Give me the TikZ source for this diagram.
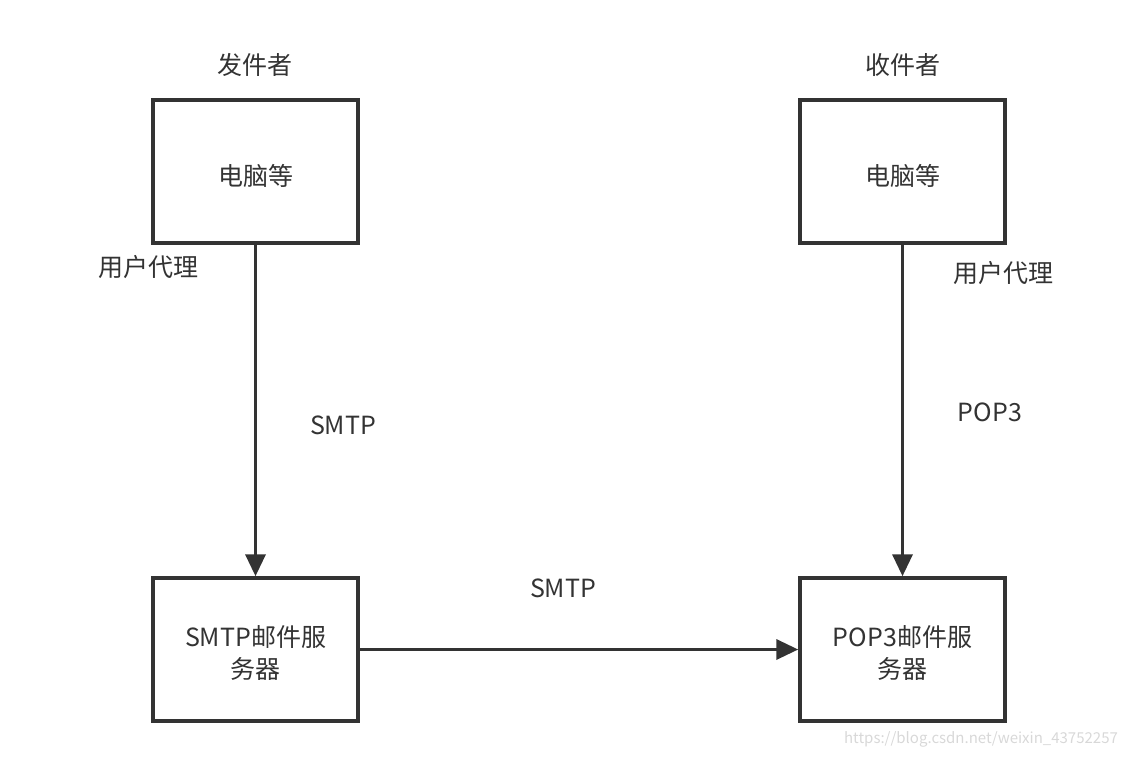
\documentclass[tikz,border=0pt]{standalone}
\usepackage{fontspec}
\setmainfont{Noto Sans CJK SC}
\usetikzlibrary{arrows.meta}
\definecolor{ink}{HTML}{333333}
\definecolor{wm}{HTML}{D8D8D8}
\tikzset{
  x=1pt,y=-1pt,
  box/.style={draw=ink,line width=3.5pt,fill=white,minimum width=205pt,minimum height=143pt,inner sep=0pt},
  boxtext/.style={align=center,font=\fontsize{25}{32}\selectfont,text=ink,inner sep=0pt,yshift=-4pt},
  lbl/.style={font=\fontsize{25}{30}\selectfont,text=ink,inner sep=0pt},
  conn/.style={draw=ink,line width=3.5pt,-{Triangle[length=22pt,width=20pt]}}
}
\begin{document}
\begin{tikzpicture}
\useasboundingbox (0,0) rectangle (1126,757);
\node[box,label={[boxtext]center:电脑等}] (s1) at (255.5,171.5) {};
\node[box,label={[boxtext]center:电脑等}] (r1) at (902.5,171.5) {};
\node[box,label={[boxtext]center:{SMTP邮件服\\务器}}] (s2) at (255.5,649.5) {};
\node[box,label={[boxtext]center:{POP3邮件服\\务器}}] (r2) at (902.5,649.5) {};
\node[lbl] (t1) at (255,65) {发件者};
\node[lbl] (t2) at (903,65) {收件者};
\node[lbl] (u1) at (148,267) {用户代理};
\node[lbl] (u2) at (1003,273) {用户代理};
\node[lbl] (p1) at (343,425) {SMTP};
\node[lbl] (p2) at (990,412) {POP3};
\node[lbl] (p3) at (563,588) {SMTP};
\node[font=\fontsize{15}{18}\selectfont,text=wm,inner sep=0pt] (w) at (981,739) {https://blog.csdn.net/weixin\_43752257};
\draw[conn] (s1) -- (s2);
\draw[conn] (r1) -- (r2);
\draw[conn] (s2) -- (r2);
\end{tikzpicture}
\end{document}
